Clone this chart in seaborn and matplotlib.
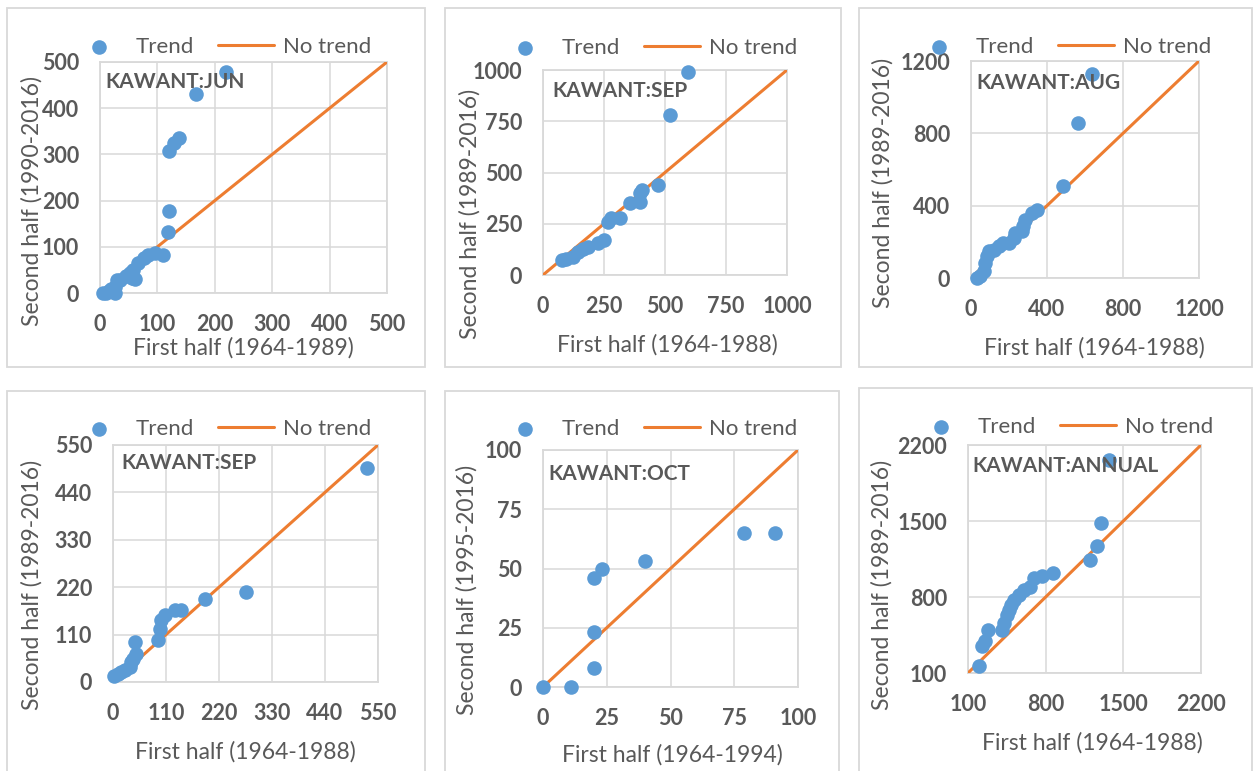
import numpy as np
import pandas as pd
import matplotlib
matplotlib.use("Agg")
import matplotlib.pyplot as plt
import seaborn as sns
from matplotlib.patches import Rectangle

# ---------------- data ----------------
jun_first = [6, 10, 15, 20, 26, 26, 29, 35, 45, 52, 55, 61, 58, 67, 76, 84, 96, 110, 119, 121, 121, 129, 137, 167, 220]
jun_second = [0, 0, 4, 8, 0, 14, 29, 28, 36, 44, 32, 30, 50, 65, 76, 83, 86, 83, 133, 178, 308, 324, 336, 430, 478]

sep1_first = [79, 96, 123, 144, 164, 185, 226, 249, 267, 277, 315, 356, 397, 397, 404, 473, 521, 593]
sep1_second = [73, 76, 89, 114, 125, 138, 154, 171, 260, 276, 276, 350, 358, 398, 415, 439, 780, 992]

aug_first = [31, 49, 66, 75, 84, 93, 119, 145, 171, 198, 224, 233, 268, 276, 285, 320, 346, 483, 561, 638]
aug_second = [0, 9, 37, 83, 120, 147, 156, 175, 193, 193, 221, 248, 258, 285, 322, 359, 377, 506, 859, 1126]

sep2_first = [3, 10, 17, 24, 35, 38, 42, 48, 45, 93, 97, 100, 107, 128, 142, 190, 275, 528]
sep2_second = [15, 19, 23, 27, 35, 46, 54, 66, 93, 97, 124, 143, 155, 167, 167, 192, 209, 496]

oct_first = [0, 11, 20, 20, 20, 23, 40, 79, 91]
oct_second = [0, 0, 8, 23, 46, 50, 53, 65, 65]

ann_first = [196, 226, 256, 277, 406, 421, 451, 466, 487, 511, 556, 601, 655, 691, 766, 862, 1201, 1261, 1297, 1375]
ann_second = [161, 345, 391, 499, 499, 560, 637, 682, 728, 774, 820, 866, 891, 974, 989, 1020, 1142, 1271, 1480, 2062]

titles = ["KAWANT:JUN", "KAWANT:SEP", "KAWANT:AUG", "KAWANT:SEP", "KAWANT:OCT", "KAWANT:ANNUAL"]
xlabels = ["First half (1964-1989)", "First half (1964-1988)", "First half (1964-1988)",
           "First half (1964-1988)", "First half (1964-1994)", "First half (1964-1988)"]
ylabels = ["Second half (1990-2016)", "Second half (1989-2016)", "Second half (1989-2016)",
           "Second half (1989-2016)", "Second half (1995-2016)", "Second half (1989-2016)"]
ticks = [[0, 100, 200, 300, 400, 500],
         [0, 250, 500, 750, 1000],
         [0, 400, 800, 1200],
         [0, 110, 220, 330, 440, 550],
         [0, 25, 50, 75, 100],
         [100, 800, 1500, 2200]]
firsts = [jun_first, sep1_first, aug_first, sep2_first, oct_first, ann_first]
seconds = [jun_second, sep1_second, aug_second, sep2_second, oct_second, ann_second]

# ---------------- layout (pixels) ----------------
W, H = 1253, 771
axes_px = [(100, 62, 387, 293), (543, 70, 787, 275), (971, 61, 1199, 278),
           (113, 445, 378, 682), (543, 450, 798, 687), (968, 445, 1201, 673)]
boxes_px = [(7, 8, 425, 367), (445, 8, 841, 367), (859, 8, 1252, 367),
            (7, 391, 425, 790), (445, 391, 839, 790), (859, 388, 1252, 790)]
ylab_pos = [(-0.237, 0.40), (-0.30, 0.30), (-0.386, 0.44), (-0.306, 0.41), (-0.30, 0.41), (-0.369, 0.386)]
xlab_pos = [(0.50, -0.238), (0.51, -0.34), (0.54, -0.32), (0.50, -0.295), (0.506, -0.287), (0.534, -0.307)]
title_pos = [(0.017, 0.913), (0.037, 0.90), (0.022, 0.90), (0.03, 0.924), (0.02, 0.90), (0.017, 0.908)]
leg_pos = [(221, 47), (647, 48), (1061, 47), (221, 429), (647, 429), (1063, 427)]

BLUE = "#5B9BD5"
ORANGE = "#ED7D31"
GRAY_TXT = "#595959"
GRID = "#D9D9D9"

sns.set_theme(style="whitegrid")
plt.rcParams['font.family'] = ['Lato', 'DejaVu Sans']

fig = plt.figure(figsize=(W / 100, H / 100), dpi=100)
fig.patch.set_facecolor("white")

for (l, t, r, b) in boxes_px:
    fig.patches.append(Rectangle((l / W, 1 - b / H), (r - l) / W, (b - t) / H,
                                 transform=fig.transFigure, fill=False,
                                 edgecolor=GRID, linewidth=1.3, zorder=0))

for i in range(6):
    l, t, r, b = axes_px[i]
    ax = fig.add_axes([l / W, 1 - b / H, (r - l) / W, (b - t) / H])
    tk = ticks[i]
    df = pd.DataFrame({"x": firsts[i], "y": seconds[i]})
    sns.scatterplot(data=df, x="x", y="y", ax=ax, color=BLUE, s=110,
                    edgecolor=BLUE, linewidth=0, label="Trend", clip_on=False, zorder=4)
    line_df = pd.DataFrame({"x": [tk[0], tk[-1]], "y": [tk[0], tk[-1]]})
    sns.lineplot(data=line_df, x="x", y="y", ax=ax, color=ORANGE, linewidth=2.2,
                 label="No trend", zorder=3)
    ax.set_xlim(tk[0], tk[-1])
    ax.set_ylim(tk[0], tk[-1])
    ax.set_xticks(tk)
    ax.set_yticks(tk)
    ax.grid(True, color=GRID, linewidth=1.1)
    for sp in ax.spines.values():
        sp.set_visible(True)
        sp.set_color(GRID)
        sp.set_linewidth(1.3)
    ax.tick_params(length=0, pad=15, labelsize=15.5, colors=GRAY_TXT)
    for lab in ax.get_xticklabels() + ax.get_yticklabels():
        lab.set_fontweight("bold")
    ax.set_xlabel(xlabels[i], fontsize=16.5, color=GRAY_TXT)
    ax.set_ylabel(ylabels[i], fontsize=16.5, color=GRAY_TXT)
    ax.xaxis.label.set_va("center")
    ax.yaxis.label.set_va("center")
    ax.xaxis.set_label_coords(*xlab_pos[i])
    ax.yaxis.set_label_coords(*ylab_pos[i])
    ax.text(title_pos[i][0], title_pos[i][1], titles[i], transform=ax.transAxes,
            fontsize=15, fontweight="bold", color=GRAY_TXT, ha="left", va="center", zorder=5)
    lx, ly = leg_pos[i]
    ax.legend(loc="center", bbox_to_anchor=(lx / W, 1 - ly / H),
              bbox_transform=fig.transFigure, ncol=2, frameon=False,
              fontsize=16, handlelength=2.5, handletextpad=0.4,
              columnspacing=1.1, labelcolor=GRAY_TXT, borderaxespad=0)

fig.savefig("out.png", dpi=100, facecolor="white")
